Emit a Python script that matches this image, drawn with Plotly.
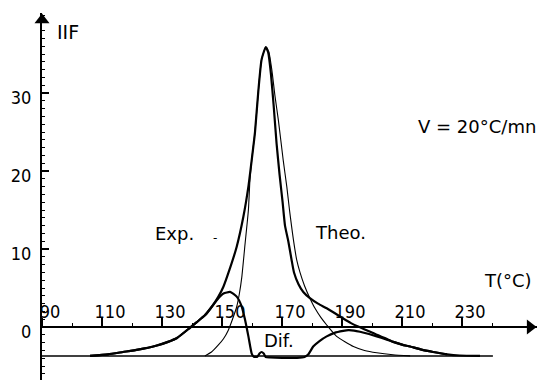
import plotly.graph_objects as go

# ---------------- data ----------------
BASELINE = -3.7
baseline_T = [90, 240.3]

exp_T = [106, 112, 117, 122, 128, 132, 135, 139.3, 141.5, 144.3, 146.6, 148.8, 150.5,
         152.1, 154.9, 157.1, 158.8, 159.9, 161, 162.1, 163.2, 164.6, 165.4, 166.3,
         167.2, 168.2, 169.2, 170.2, 171, 172.1, 173.2, 174, 175.5, 177.1, 179.3, 182,
         184.9, 187.5, 190.4, 193, 196, 198.8, 201.6, 204.5, 207.1, 210, 212.7, 216.5,
         220.4, 225, 229.3, 236]
exp_y = [-3.7, -3.5, -3.2, -2.9, -2.4, -1.9, -1.4, -0.1, 0.6, 1.5, 2.6, 3.9, 5.2,
         6.9, 10.3, 14.1, 18, 21.4, 25, 30.2, 34.3, 35.9, 35.2, 32.5,
         28.5, 23.5, 19.5, 16, 13, 11, 8.6, 7.0, 5.5, 4.5, 3.7, 3.0,
         2.4, 1.8, 1.1, 0.5, -0.04, -0.5, -1.0, -1.45, -1.9, -2.25, -2.5, -2.9,
         -3.2, -3.5, -3.65, -3.7]

theo_T = [144.3, 146.5, 148.8, 150.5, 152.1, 153.5, 154.9, 155.8, 156.6, 157.7, 158.8,
          159.3, 159.9, 161, 162.1, 163.2, 164.6, 165.6, 166.6, 167.7, 168.8, 170.4,
          171.6, 172.5, 173.2, 173.8, 174.9, 176, 177.5, 179.3, 181, 183, 184.9, 188.2,
          193.8, 197.5, 201.6, 207, 212.7]
theo_y = [-3.7, -3.2, -2.3, -1.5, -0.4, 1.0, 2.6, 4.3, 6.4, 10.7, 15,
          18.8, 21.4, 25, 30.2, 34.3, 35.9, 35.3, 33, 29.5, 26.5, 21.4,
          18, 15, 12.9, 11.2, 8.6, 7.0, 5.3, 3.7, 2.4, 1.2, 0.26, -1.2,
          -2.5, -3.0, -3.3, -3.55, -3.7]

dif_T = [106, 112, 117, 122, 128, 132, 135, 139.3, 141.5, 144.3, 146.6, 148.8, 150.5,
         152.7, 154.9, 156.6, 157.7, 158.8, 159.9, 160.6, 161.8, 162.5, 163.2, 163.9,
         164.6, 166, 170, 175, 177.5, 178.8, 180.4, 182.5, 184.9, 187.5, 190.4, 192.1,
         194, 196, 199, 201.6, 204.5, 207.1, 210, 212.7, 216.5, 220.4, 225]
dif_y = [-3.7, -3.5, -3.2, -2.9, -2.4, -1.9, -1.4, -0.1, 0.6, 1.5, 2.6, 3.7, 4.3,
         4.5, 3.9, 2.6, 0.9, -1.2, -3.4, -3.8, -3.8, -3.4, -3.2, -3.4,
         -3.85, -3.9, -3.95, -3.95, -3.85, -3.5, -2.5, -1.8, -1.2, -0.75, -0.5, -0.4,
         -0.45, -0.6, -0.9, -1.2, -1.55, -1.9, -2.25, -2.5, -2.9, -3.2, -3.5]

x_tickvals = [90, 110, 130, 150, 170, 190, 210, 230]
x_minor_tickvals = [100, 120, 140, 160, 180, 200, 220, 240]
y_tickvals = [0, 10, 20, 30]

X_RANGE = [90, 255]
Y_RANGE = [-6.79, 40.26]

# ---------------- figure ----------------
W, H = 539, 383
ML, MR, MT, MB = 42, 2, 13, 3

TICK_FONT = dict(family="Liberation Sans Narrow, DejaVu Sans Condensed, sans-serif",
                 size=18, color="black")
TEXT_FONT = dict(family="DejaVu Sans, sans-serif", size=18, color="black")

fig = go.Figure()

fig.add_trace(go.Scatter(x=baseline_T, y=[BASELINE] * len(baseline_T), mode="lines",
                         line=dict(color="black", width=1.5), hoverinfo="skip"))
fig.add_trace(go.Scatter(x=theo_T, y=theo_y, mode="lines", name="Theo.",
                         line=dict(color="black", width=1.1, shape="spline", smoothing=0.5)))
fig.add_trace(go.Scatter(x=dif_T, y=dif_y, mode="lines", name="Dif.",
                         line=dict(color="black", width=2.2, shape="spline", smoothing=0.5)))
fig.add_trace(go.Scatter(x=exp_T, y=exp_y, mode="lines", name="Exp.",
                         line=dict(color="black", width=2.2, shape="spline", smoothing=0.5)))

# axis arrow heads
fig.add_trace(go.Scatter(x=[X_RANGE[0]], y=[Y_RANGE[1] - 0.9], mode="markers",
                         marker=dict(symbol="triangle-up", size=13, color="black"),
                         cliponaxis=False, hoverinfo="skip"))
fig.add_trace(go.Scatter(x=[X_RANGE[1] - 2.3], y=[0], mode="markers",
                         marker=dict(symbol="triangle-right", size=13, color="black"),
                         cliponaxis=False, hoverinfo="skip"))

xpos = (0 - Y_RANGE[0]) / (Y_RANGE[1] - Y_RANGE[0])

fig.update_layout(
    width=W, height=H,
    margin=dict(l=ML, r=MR, t=MT, b=MB, autoexpand=False),
    paper_bgcolor="white", plot_bgcolor="white",
    showlegend=False,
    xaxis=dict(range=X_RANGE, anchor="free", position=xpos, side="top",
               automargin=False,
               showline=True, linecolor="black", linewidth=2,
               showgrid=False, zeroline=False,
               tickvals=x_tickvals, ticks="outside", ticklen=8, tickwidth=1.5,
               tickcolor="black", tickfont=TICK_FONT, ticklabelshift=8,
               ticklabelstandoff=-7,
               minor=dict(tickvals=x_minor_tickvals,
                          ticks="outside", ticklen=3, tickwidth=1, tickcolor="black")),
    yaxis=dict(range=Y_RANGE, automargin=False,
               showline=True, linecolor="black", linewidth=2,
               showgrid=False, zeroline=False,
               tickvals=y_tickvals, ticks="inside", ticklen=7, tickwidth=1.5,
               tickcolor="black", tickfont=TICK_FONT, ticklabelshift=5,
               ticklabelstandoff=5,
               minor=dict(dtick=1, tick0=0, ticks="inside", ticklen=3, tickwidth=1,
                          tickcolor="black")),
)

PW = W - ML - MR
PH = H - MT - MB

def label(text, px, py, font=TEXT_FONT):
    # px, py: page pixel position of the text centre -> plot-area paper coords
    fig.add_annotation(text=text, x=(px - ML) / PW, y=1 - (py - MT) / PH,
                       xref="paper", yref="paper", xanchor="center", yanchor="middle",
                       showarrow=False, font=font)

label("IIF", 68, 32, dict(family="DejaVu Sans, sans-serif", size=19, color="black"))
label("V = 20°C/mn", 477, 127)
label("Exp.", 174, 233)
label("-", 215, 238, dict(family="DejaVu Sans", size=12, color="black"))
label("Theo.", 340, 232)
label("T(°C)", 508, 280)
label("Dif.", 279, 340)

fig.write_html("out.html", config={"displayModeBar": False},
               post_script="document.body.style.margin='0px';"
                           "document.body.style.padding='0px';"
                           "document.body.style.overflow='hidden';")
